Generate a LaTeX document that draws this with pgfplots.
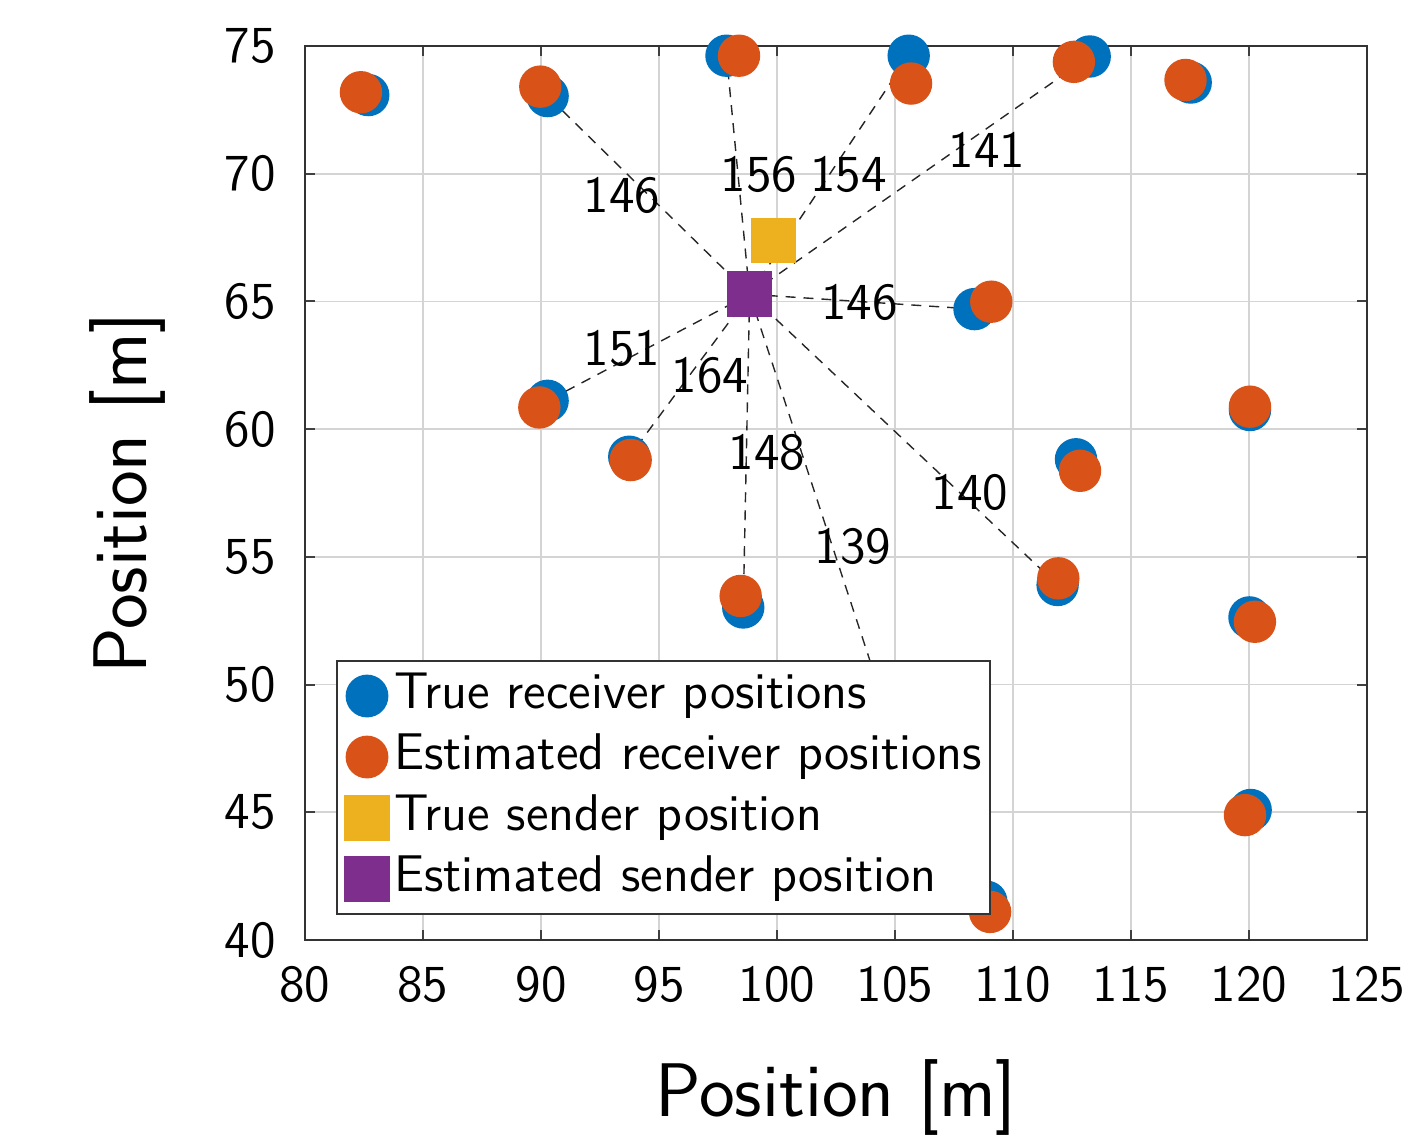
\documentclass[border=0pt]{standalone}
\usepackage{pgfplots}
\pgfplotsset{compat=1.18}
\renewcommand{\familydefault}{\sfdefault}
\definecolor{mblue}{rgb}{0,0.447,0.741}
\definecolor{morange}{rgb}{0.85,0.325,0.098}
\definecolor{myellow}{rgb}{0.929,0.694,0.125}
\definecolor{mpurple}{rgb}{0.494,0.184,0.556}
\begin{document}
\begin{tikzpicture}
\begin{axis}[
  at={(0pt,0pt)}, anchor=south west,
  scale only axis, width=265.5pt, height=223.5pt,
  xmin=80, xmax=125, ymin=40, ymax=75,
  xtick={80,85,...,125}, ytick={40,45,...,75},
  grid=major, major grid style={color=black!17, line width=0.45pt},
  axis line style={color=black!80, line width=0.5pt},
  tick align=inside, major tick length=2.6pt,
  tick style={color=black!75, line width=0.5pt},
  /pgf/number format/assume math mode=true,
  ticklabel style={font=\fontsize{13}{15}\selectfont},
  xticklabel style={yshift=-3pt},
  yticklabel style={xshift=-3.8pt},
  xlabel={Position [m]}, ylabel={Position [m]},
  label style={font=\fontsize{19}{23}\selectfont},
  xlabel style={at={(axis description cs:0.5,-0.1756)}, anchor=center},
  ylabel style={at={(axis description cs:-0.1667,0.5)}, anchor=center},
  legend cell align=left,
  legend style={at={(rel axis cs:0.0292,0.3132)}, anchor=north west,
    draw=black!80, line width=0.5pt, fill=white,
    font=\fontsize{12.9}{15}\selectfont,
    inner xsep=2pt, inner ysep=1.75pt, row sep=1.25pt,
    nodes={inner sep=0pt, text height=10pt, text depth=4pt},
    /tikz/column 1/.style={column sep=1.3pt}},
  legend image code/.code={\draw[#1] plot coordinates {(0pt,0pt)};},
]
% connection lines: estimated sender -> true receivers
\addplot[forget plot, color=black!85, line width=0.35pt, dash pattern=on 2.5pt off 2pt] coordinates {(98.84,65.28) (90.28,73.04)};
\addplot[forget plot, color=black!85, line width=0.35pt, dash pattern=on 2.5pt off 2pt] coordinates {(98.84,65.28) (97.86,74.62)};
\addplot[forget plot, color=black!85, line width=0.35pt, dash pattern=on 2.5pt off 2pt] coordinates {(98.84,65.28) (105.58,74.62)};
\addplot[forget plot, color=black!85, line width=0.35pt, dash pattern=on 2.5pt off 2pt] coordinates {(98.84,65.28) (113.25,74.59)};
\addplot[forget plot, color=black!85, line width=0.35pt, dash pattern=on 2.5pt off 2pt] coordinates {(98.84,65.28) (108.37,64.70)};
\addplot[forget plot, color=black!85, line width=0.35pt, dash pattern=on 2.5pt off 2pt] coordinates {(98.84,65.28) (90.28,61.11)};
\addplot[forget plot, color=black!85, line width=0.35pt, dash pattern=on 2.5pt off 2pt] coordinates {(98.84,65.28) (93.74,58.92)};
\addplot[forget plot, color=black!85, line width=0.35pt, dash pattern=on 2.5pt off 2pt] coordinates {(98.84,65.28) (98.57,53.02)};
\addplot[forget plot, color=black!85, line width=0.35pt, dash pattern=on 2.5pt off 2pt] coordinates {(98.84,65.28) (111.89,53.90)};
\addplot[forget plot, color=black!85, line width=0.35pt, dash pattern=on 2.5pt off 2pt] coordinates {(98.84,65.28) (105.85,45.56)};
% true receivers
\addplot[only marks, mark=*, mark size=5.1pt, color=mblue, mark options={draw=none, fill=mblue}] coordinates {
(82.68,73.08) (90.28,73.04) (97.86,74.62) (105.58,74.62) (113.25,74.59) (117.53,73.57)
(108.37,64.70) (90.28,61.11) (93.74,58.92) (112.67,58.82) (120.04,60.75) (111.89,53.90)
(98.57,53.02) (120.02,52.63) (120.07,45.09) (108.87,41.50) (105.85,45.56)};
\addlegendentry{True receiver positions}
% estimated receivers
\addplot[only marks, mark=*, mark size=5.1pt, color=morange, mark options={draw=none, fill=morange}] coordinates {
(82.37,73.19) (89.97,73.41) (98.39,74.62) (105.68,73.53) (112.58,74.38) (117.31,73.67)
(109.08,64.99) (89.93,60.85) (93.80,58.79) (112.84,58.37) (120.04,60.88) (111.92,54.16)
(98.46,53.47) (120.25,52.46) (119.83,44.89) (109.03,41.10) (105.95,45.40)};
\addlegendentry{Estimated receiver positions}
\addplot[only marks, mark=square*, mark size=5.5pt, color=myellow, mark options={draw=none, fill=myellow}] coordinates {(99.86,67.38)};
\addlegendentry{True sender position}
\addplot[only marks, mark=square*, mark size=5.5pt, color=mpurple, mark options={draw=none, fill=mpurple}] coordinates {(98.84,65.28)};
\addlegendentry{Estimated sender position}
% distance labels
\begin{scope}[every node/.style={font=\fontsize{13}{15}\selectfont, inner sep=0pt, anchor=center}]
\node at (axis cs:93.43,69.13) {146};
\node at (axis cs:99.24,69.97) {156};
\node at (axis cs:103.03,69.97) {154};
\node at (axis cs:108.90,70.95) {141};
\node at (axis cs:103.50,64.96) {146};
\node at (axis cs:93.43,63.14) {151};
\node at (axis cs:97.16,62.10) {164};
\node at (axis cs:99.58,59.08) {148};
\node at (axis cs:108.18,57.54) {140};
\node at (axis cs:103.22,55.42) {139};
\end{scope}
\end{axis}
\pgfresetboundingbox
\useasboundingbox (-76.25pt,-49.5pt) rectangle (276.5pt,235pt);
\end{tikzpicture}
\end{document}
